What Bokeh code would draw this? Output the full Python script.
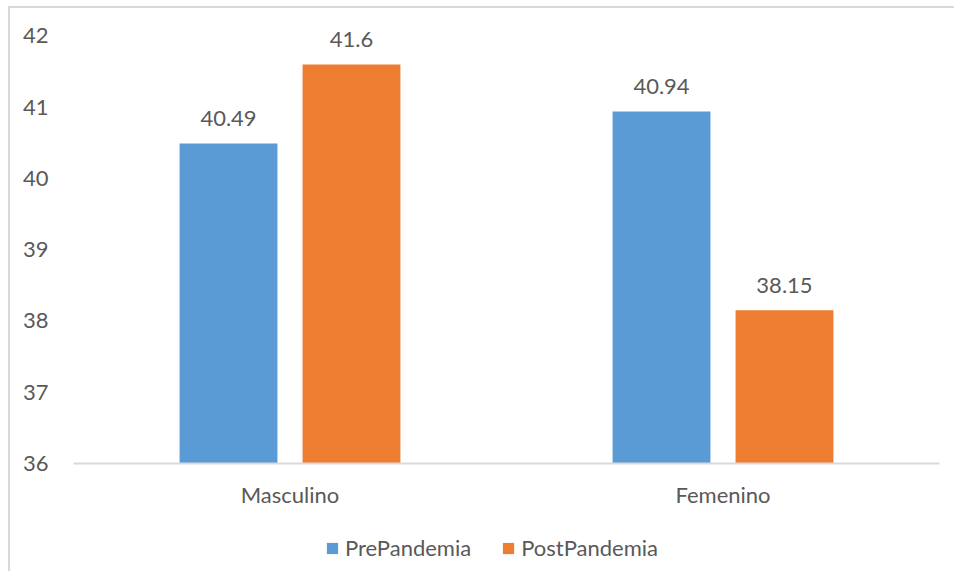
from bokeh.plotting import figure
from bokeh.models import ColumnDataSource, FactorRange, Legend, LegendItem, LabelSet
from bokeh.layouts import column
from bokeh.transform import dodge
from bokeh.core.properties import value
from bokeh.embed import file_html
from bokeh.resources import INLINE

categories = ["Masculino", "Femenino"]
pre = [40.49, 40.94]
post = [41.6, 38.15]
pre_labels = ["40.49", "40.94"]
post_labels = ["41.6", "38.15"]
series = ["PrePandemia", "PostPandemia"]
yticks = [36, 37, 38, 39, 40, 41, 42]

FONT = "Lato"
TXT = "#595959"
FS = "22px"
BLUE = "#5B9BD5"
ORANGE = "#ED7D31"

src = ColumnDataSource(dict(cat=categories, pre=pre, post=post,
                            pre_lab=pre_labels, post_lab=post_labels))

p = figure(width=944, height=515, x_range=FactorRange(*categories, range_padding=0),
           y_range=(36, 42.3), output_backend="svg", toolbar_location=None,
           min_border_left=63, min_border_right=15, min_border_top=6, min_border_bottom=60)
p.x_range.range_padding = 0
p.outline_line_color = None
p.grid.visible = False

p.vbar(x=dodge("cat", -0.142, range=p.x_range), top="pre", bottom=36, width=0.226,
       source=src, fill_color=BLUE, line_color=None)
p.vbar(x=dodge("cat", 0.142, range=p.x_range), top="post", bottom=36, width=0.226,
       source=src, fill_color=ORANGE, line_color=None)

for col, lab, off in (("pre", "pre_lab", -0.142), ("post", "post_lab", 0.142)):
    ls = LabelSet(x=dodge("cat", off, range=p.x_range), y=col, text=lab, source=src,
                  text_align="center", text_baseline="middle", y_offset=25,
                  text_font=value(FONT), text_font_size=value(FS), text_color=TXT)
    p.add_layout(ls)

p.yaxis.ticker = yticks
p.yaxis.axis_line_color = None
p.yaxis.major_tick_line_color = None
p.yaxis.minor_tick_line_color = None
p.yaxis.major_label_standoff = 19
p.yaxis.major_label_text_font = FONT
p.yaxis.major_label_text_font_size = FS
p.yaxis.major_label_text_color = TXT

p.xaxis.axis_line_color = "#d9d9d9"
p.xaxis.axis_line_width = 2
p.xaxis.major_tick_line_color = None
p.xaxis.minor_tick_line_color = None
p.xaxis.major_label_standoff = 11
p.xaxis.major_label_text_font = FONT
p.xaxis.major_label_text_font_size = FS
p.xaxis.major_label_text_color = TXT

# legend strip below the chart (legend-only glyphs have zero height)
lf = figure(width=944, height=48, x_range=(0, 1), y_range=(0, 1), output_backend="svg",
            toolbar_location=None, x_axis_type=None, y_axis_type=None,
            min_border=0)
lf.outline_line_color = None
lf.grid.visible = False
g1 = lf.vbar(x=[0.5], top=[0], bottom=[0], width=0.1, fill_color=BLUE, line_color=None)
g2 = lf.vbar(x=[0.5], top=[0], bottom=[0], width=0.1, fill_color=ORANGE, line_color=None)
legend = Legend(items=[LegendItem(label=series[0], renderers=[g1]),
                       LegendItem(label=series[1], renderers=[g2])],
                orientation="horizontal", location=(252, 10),
                glyph_width=14, glyph_height=14, label_standoff=6, spacing=30,
                label_text_font=FONT, label_text_font_size=FS, label_text_color=TXT,
                border_line_color=None, background_fill_alpha=0, padding=0, margin=0)
lf.add_layout(legend)

layout = column(p, lf, spacing=0,
                styles={"border-top": "2px solid #d9d9d9", "border-left": "2px solid #d9d9d9",
                        "margin-left": "8px", "margin-top": "6px"})

open("out.html", "w").write(file_html(layout, INLINE))
